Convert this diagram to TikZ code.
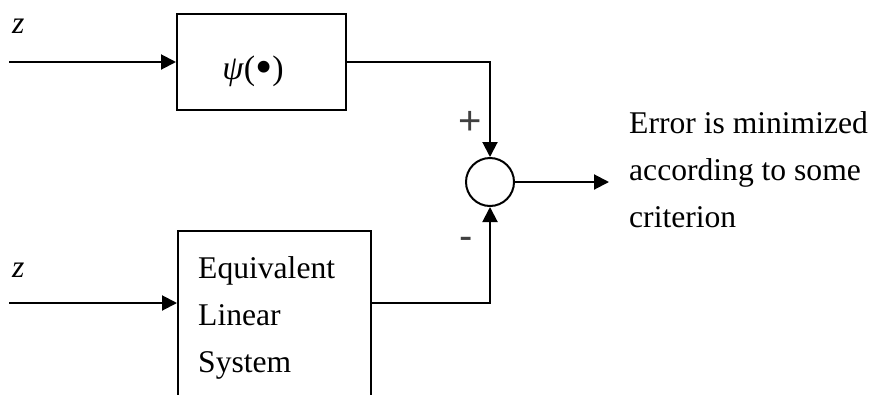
\documentclass[tikz,border=0pt]{standalone}
\usepackage{fontspec}
\setmainfont{Liberation Serif}
\newfontfamily\signfont{Liberation Sans}
\usetikzlibrary{arrows.meta}

\begin{document}
\begin{tikzpicture}[x=1pt,y=-1pt,
  every node/.style={inner sep=0pt, font=\fontsize{31.6}{47}\selectfont},
  blockbox/.style={draw, line width=2pt, rectangle},
  sumnode/.style={draw, line width=2pt, circle},
  sig/.style={line width=2pt, -{Triangle[length=15pt,width=15pt]}},
  signlabel/.style={font=\signfont\fontsize{40}{40}\selectfont, text=black!75}]

  \useasboundingbox (0,0) rectangle (874,394);
  \clip (0,0) rectangle (874,394);

  % nonlinear block
  \node[blockbox, minimum width=169pt, minimum height=96pt] (psi) at (261.5,62) {};
  \node[anchor=base, font=\fontsize{34}{40}\selectfont] (psitext) at (253,79)
    {\textit{ψ}(\raisebox{-0.12em}{\scalebox{1.45}{•}})};

  % equivalent linear block (its lower edge runs off the page)
  \node[blockbox, minimum width=193pt, minimum height=220pt, anchor=north west] (lin) at (177,230) {};
  \node[anchor=base west] (l1) at (198,278) {Equivalent};
  \node[anchor=base west] (l2) at (198,325) {Linear};
  \node[anchor=base west] (l3) at (198,372) {System};

  % summing junction
  \node[sumnode, minimum size=48pt] (sum) at (490,182) {};

  % inputs
  \coordinate (in1) at (9,62);
  \coordinate (in2) at (9,303);
  \node[anchor=base west] (z1) at (12,33) {\textit{z}};
  \node[anchor=base west] (z2) at (12,277) {\textit{z}};
  \draw[sig] (in1) -- (psi.west);
  \draw[sig] (in2) -- ([yshift=-73pt]lin.north west);

  % block outputs into the junction
  \draw[sig] (psi.east) -| (sum.north);
  \draw[sig] ([yshift=-73pt]lin.north east) -| (sum.south);
  \node[signlabel] (plus) at (470,123) {+};
  \node[signlabel] (minus) at (466,243) {-};

  % error output
  \coordinate (out) at (609,182);
  \draw[sig] (sum.east) -- (out);
  \node[anchor=base west] (e1) at (629,133) {Error is minimized};
  \node[anchor=base west] (e2) at (629,180) {according to some};
  \node[anchor=base west] (e3) at (629,227) {criterion};
\end{tikzpicture}
\end{document}
